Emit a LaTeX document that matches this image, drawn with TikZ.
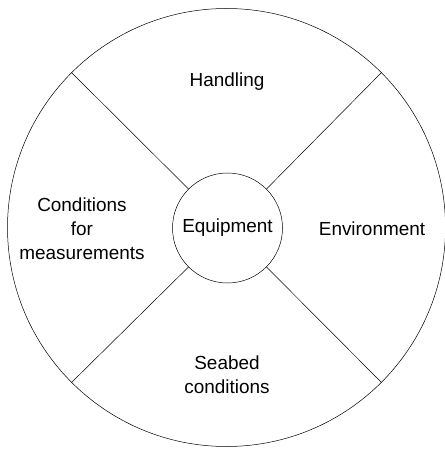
\documentclass[tikz,border=0pt]{standalone}
\usepackage{fontspec}
\setmainfont{Liberation Sans}
\usepackage{tikz}
\usetikzlibrary{shapes.geometric}
\tikzstyle{ring} = [circle, draw=black, line width=0.5pt, inner sep=0pt]
\tikzstyle{sector} = [align=center, font=\fontsize{19}{24}\selectfont, inner sep=0pt]
\tikzstyle{spoke} = [line width=0.5pt]

\begin{document}
\begin{tikzpicture}[x=1bp,y=-1bp]
   \useasboundingbox (0,0) rectangle (445,450);
   \node (wheel) [ring, minimum size=438bp] at (226.5,227.5) {};
   \node (hub) [ring, minimum size=110bp, sector] at (227.5,228) {Equipment};
   \draw [spoke] (hub.45) -- (wheel.45);
   \draw [spoke] (hub.135) -- (wheel.135);
   \draw [spoke] (hub.225) -- (wheel.225);
   \draw [spoke] (hub.315) -- (wheel.315);
   \node (handling) [sector] at (227,82) {Handling};
   \node (environment) [sector] at (372,229) {Environment};
   \node (conditions) [sector] at (82,229) {Conditions\\for\\measurements};
   \node (seabed) [sector] at (227,375) {Seabed\\conditions};
\end{tikzpicture}
\end{document}
